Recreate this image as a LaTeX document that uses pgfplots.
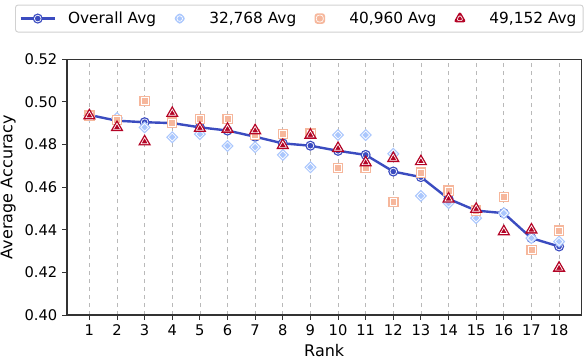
\documentclass[border=0pt]{standalone}
\usepackage{fontspec}
\setmainfont{DejaVu Sans}
\usepackage{pgfplots}
\pgfplotsset{compat=1.18}

\definecolor{cAll}{HTML}{3B4CC0}
\definecolor{cA}{HTML}{AAC7FD}
\definecolor{cB}{HTML}{F6B79C}
\definecolor{cC}{HTML}{B40426}

% filled marks with a thin white ring inside
\pgfdeclareplotmark{dcirc}{%
  \pgfpathcircle{\pgfpointorigin}{\pgfplotmarksize}\pgfusepath{fill}%
  \pgfsetstrokecolor{white}\pgfsetlinewidth{0.5pt}%
  \pgfpathcircle{\pgfpointorigin}{0.66\pgfplotmarksize}\pgfusepath{stroke}}
\pgfdeclareplotmark{dsq}{%
  \pgfpathrectangle{\pgfpoint{-\pgfplotmarksize}{-\pgfplotmarksize}}{\pgfpoint{2\pgfplotmarksize}{2\pgfplotmarksize}}\pgfusepath{fill}%
  \pgfsetstrokecolor{white}\pgfsetlinewidth{0.5pt}%
  \pgfpathrectangle{\pgfpoint{-0.66\pgfplotmarksize}{-0.66\pgfplotmarksize}}{\pgfpoint{1.32\pgfplotmarksize}{1.32\pgfplotmarksize}}\pgfusepath{stroke}}
\pgfdeclareplotmark{ddia}{%
  \pgfpathmoveto{\pgfpoint{0pt}{\pgfplotmarksize}}\pgfpathlineto{\pgfpoint{\pgfplotmarksize}{0pt}}%
  \pgfpathlineto{\pgfpoint{0pt}{-\pgfplotmarksize}}\pgfpathlineto{\pgfpoint{-\pgfplotmarksize}{0pt}}\pgfpathclose\pgfusepath{fill}%
  \pgfsetstrokecolor{white}\pgfsetlinewidth{0.5pt}%
  \pgfpathmoveto{\pgfpoint{0pt}{0.64\pgfplotmarksize}}\pgfpathlineto{\pgfpoint{0.64\pgfplotmarksize}{0pt}}%
  \pgfpathlineto{\pgfpoint{0pt}{-0.64\pgfplotmarksize}}\pgfpathlineto{\pgfpoint{-0.64\pgfplotmarksize}{0pt}}\pgfpathclose\pgfusepath{stroke}}
\pgfdeclareplotmark{dtri}{%
  \pgfpathmoveto{\pgfqpointpolar{90}{\pgfplotmarksize}}\pgfpathlineto{\pgfqpointpolar{210}{\pgfplotmarksize}}%
  \pgfpathlineto{\pgfqpointpolar{330}{\pgfplotmarksize}}\pgfpathclose\pgfusepath{fill}%
  \pgfsetstrokecolor{white}\pgfsetlinewidth{0.5pt}%
  \pgfpathmoveto{\pgfqpointpolar{90}{0.55\pgfplotmarksize}}\pgfpathlineto{\pgfqpointpolar{210}{0.55\pgfplotmarksize}}%
  \pgfpathlineto{\pgfqpointpolar{330}{0.55\pgfplotmarksize}}\pgfpathclose\pgfusepath{stroke}}

% legend images 0.9cm wide, the mark in the middle
\pgfplotsset{
  limg/.style={legend image code/.code={\draw[mark repeat=2,mark phase=2,##1]
    plot coordinates {(0cm,0cm) (0.45cm,0cm) (0.9cm,0cm)};}},
  limgm/.style={legend image code/.code={\path (0cm,0cm) (0.9cm,0cm);
    \draw[##1] plot coordinates {(0.45cm,0cm)};}}}

% rank, overall, 32768, 40960, 49152
\pgfplotstableread{
r all a b c
1 0.4938 0.4935 0.4935 0.4935
2 0.4911 0.4924 0.4915 0.4880
3 0.4904 0.4880 0.5003 0.4813
4 0.4900 0.4834 0.4902 0.4946
5 0.4880 0.4848 0.4918 0.4876
6 0.4865 0.4793 0.4919 0.4872
7 0.4836 0.4787 0.4846 0.4865
8 0.4805 0.4751 0.4849 0.4796
9 0.4794 0.4693 0.4852 0.4844
10 0.4770 0.4844 0.4689 0.4782
11 0.4751 0.4844 0.4689 0.4715
12 0.4673 0.4756 0.4530 0.4735
13 0.4647 0.4559 0.4668 0.4720
14 0.4545 0.4525 0.4584 0.4545
15 0.4490 0.4455 0.4490 0.4497
16 0.4478 0.4478 0.4553 0.4392
17 0.4361 0.4361 0.4306 0.4400
18 0.4322 0.4345 0.4397 0.4221
}\data

\begin{document}
\begin{tikzpicture}
\begin{axis}[name=ax,
  scale only axis, width=386pt, height=192pt,
  xmin=0.18, xmax=18.82, ymin=0.40, ymax=0.52,
  xtick={1,...,18}, ytick={0.40,0.42,...,0.52},
  /pgf/number format/assume math mode=true,
  yticklabel style={/pgf/number format/.cd,fixed,fixed zerofill,precision=2},
  tick label style={font=\fontsize{11}{13}\selectfont},
  label style={font=\fontsize{12}{14}\selectfont, inner sep=0pt},
  xlabel={Rank}, ylabel={Average Accuracy},
  xlabel style={at={(axis description cs:0.5,-0.163)}, anchor=base},
  ylabel style={at={(axis description cs:-0.0985,0.5)}, anchor=south},
  tick align=outside, xtick pos=bottom, ytick pos=left,
  major tick length=3.5pt, tick style={black!80, line width=0.7pt},
  axis line style={black!80, line width=0.6pt},
  xmajorgrids, grid style={dashed, gray!55, line width=0.5pt},
  legend columns=4,
  legend style={at={(-0.1004,1.2125)}, anchor=north west, draw=black!18,
    rounded corners=2pt, line width=0.7pt, font=\fontsize{11.5}{13}\selectfont,
    inner ysep=3pt, inner xsep=3pt,
    /tikz/every odd column/.append style={column sep=7pt},
    /tikz/every even column/.append style={column sep=2.5pt}},
  legend cell align=left,
]
\addplot[cAll, line width=1.8pt, mark=dcirc, mark size=3.8pt,
  mark options={fill=cAll}, limg]
  table[x=r, y=all] {\data};
\addlegendentry{Overall Avg}
\addplot[only marks, mark=ddia, mark size=4.6pt, mark options={fill=cA}, limgm]
  table[x=r, y=a] {\data};
\addlegendentry{32,768 Avg}
\addplot[only marks, mark=dsq, mark size=3.9pt, mark options={fill=cB}, limgm]
  table[x=r, y=b] {\data};
\addlegendentry{40,960 Avg}
\addplot[only marks, mark=dtri, mark size=5.6pt, mark options={fill=cC}, limgm]
  table[x=r, y=c] {\data};
\addlegendentry{49,152 Avg}
\draw[black!80, line width=1.3pt] (rel axis cs:0,0) -- (rel axis cs:1,0);
\draw[black!80, line width=1.3pt] (rel axis cs:0,0) -- (rel axis cs:0,1) -- (rel axis cs:1,1);
\end{axis}
\path ([xshift=-50pt,yshift=-33.4pt]ax.south west) ([xshift=3.2pt,yshift=44.25pt]ax.north east);
\end{tikzpicture}
\end{document}
